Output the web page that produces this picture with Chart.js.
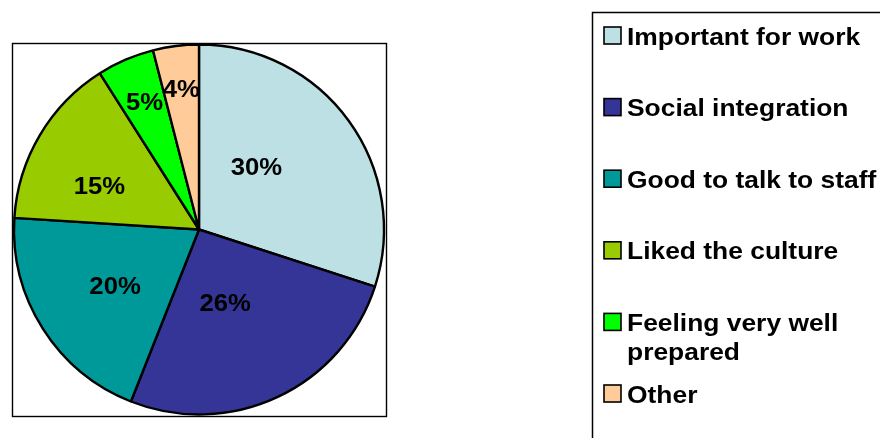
<!DOCTYPE html>
<html>
<head>
<meta charset="utf-8">
<script src="https://cdn.jsdelivr.net/npm/chart.js@4"></script>
<style>
  html, body { margin: 0; padding: 0; background: #fff; }
  #wrap { width: 880px; height: 438px; position: relative; }
</style>
</head>
<body>
<div id="wrap"><canvas id="reasonsChart" width="880" height="438"></canvas></div>
<script>
const categories = ['Important for work', 'Social integration', 'Good to talk to staff', 'Liked the culture', 'Feeling very well prepared', 'Other'];
const shares = [30, 26, 20, 15, 5, 4];

const sliceColors = ['#bce0e4', '#353598', '#009999', '#99cc00', '#00ff00', '#ffcc99'];
const FONT = "'Liberation Sans', Arial, sans-serif";

// where each percentage sits inside its slice: [fraction of radius, angle nudge in degrees]
const labelPlacement = [[0.455, -11], [0.43, 6], [0.55, -2], [0.585, -7.5], [0.74, 0], [0.76, 0]];

// text drawn a little wider than the plain font
function wideText(ctx, text, x, y, sx) {
    ctx.save();
    ctx.translate(x, y);
    ctx.scale(sx, 1);
    ctx.fillText(text, 0, 0);
    ctx.restore();
}

// thin black frame round the plot area
const plotFrame = {
    id: 'plotFrame',
    afterDraw(chart) {
        const { ctx, chartArea: a } = chart;
        ctx.save();
        ctx.strokeStyle = '#000';
        ctx.lineWidth = 1.4;
        ctx.strokeRect(a.left + 0.5, a.top + 0.5, a.right - a.left, a.bottom - a.top);
        ctx.restore();
    }
};

// percentage text on the slices
const sliceLabels = {
    id: 'sliceLabels',
    afterDatasetsDraw(chart) {
        const { ctx } = chart;
        const meta = chart.getDatasetMeta(0);
        ctx.save();
        ctx.font = 'bold 24px ' + FONT;
        ctx.fillStyle = '#000';
        ctx.textAlign = 'center';
        ctx.textBaseline = 'middle';
        meta.data.forEach((arc, i) => {
            const p = arc.getProps(['x', 'y', 'startAngle', 'endAngle', 'outerRadius']);
            const [frac, nudge] = labelPlacement[i];
            const mid = (p.startAngle + p.endAngle) / 2 + nudge * Math.PI / 180;
            const d = p.outerRadius * frac;
            wideText(ctx, chart.data.datasets[0].data[i] + '%', p.x + d * Math.cos(mid), p.y + d * Math.sin(mid), 1.07);
        });
        ctx.restore();
    }
};

// boxed legend on the right, long names wrap onto a second line
const boxLegend = {
    id: 'boxLegend',
    afterDraw(chart) {
        const { ctx, width, height } = chart;
        const colors = chart.data.datasets[0].backgroundColor;
        const left = 592, top = 12, textX = 627, firstBase = 44.5, step = 71.6, lineGap = 29.5;
        const sx = 1.1;
        const maxW = 262;
        ctx.save();
        ctx.strokeStyle = '#000';
        ctx.lineWidth = 1.5;
        ctx.strokeRect(left + 0.5, top + 0.5, width, height);

        ctx.font = 'bold 24px ' + FONT;
        ctx.textBaseline = 'alphabetic';
        ctx.textAlign = 'left';

        chart.data.labels.forEach((label, i) => {
            const base = firstBase + step * i;
            ctx.fillStyle = colors[i];
            ctx.fillRect(604, base - 17.5, 17, 17);
            ctx.lineWidth = 1.6;
            ctx.strokeRect(604, base - 17.5, 17, 17);

            // wrap words into lines that fit
            const lines = [];
            let cur = '';
            label.split(' ').forEach(w => {
                const test = cur ? cur + ' ' + w : w;
                if (cur && ctx.measureText(test).width * sx > maxW) {
                    lines.push(cur);
                    cur = w;
                } else {
                    cur = test;
                }
            });
            lines.push(cur);

            ctx.fillStyle = '#000';
            lines.forEach((ln, k) => wideText(ctx, ln, textX, base + k * lineGap, sx));
        });
        ctx.restore();
    }
};

new Chart(document.getElementById('reasonsChart'), {
    type: 'pie',
    data: {
        labels: categories,
        datasets: [{
            data: shares,
            backgroundColor: sliceColors,
            borderColor: '#000',
            borderWidth: 2.4,
            hoverOffset: 0
        }]
    },
    options: {
        responsive: false,
        animation: false,
        events: [],
        radius: 185,
        layout: { padding: { left: 12, top: 43, right: 494, bottom: 22 } },
        plugins: {
            legend: { display: false },
            tooltip: { enabled: false }
        }
    },
    plugins: [plotFrame, sliceLabels, boxLegend]
});
</script>
</body>
</html>
